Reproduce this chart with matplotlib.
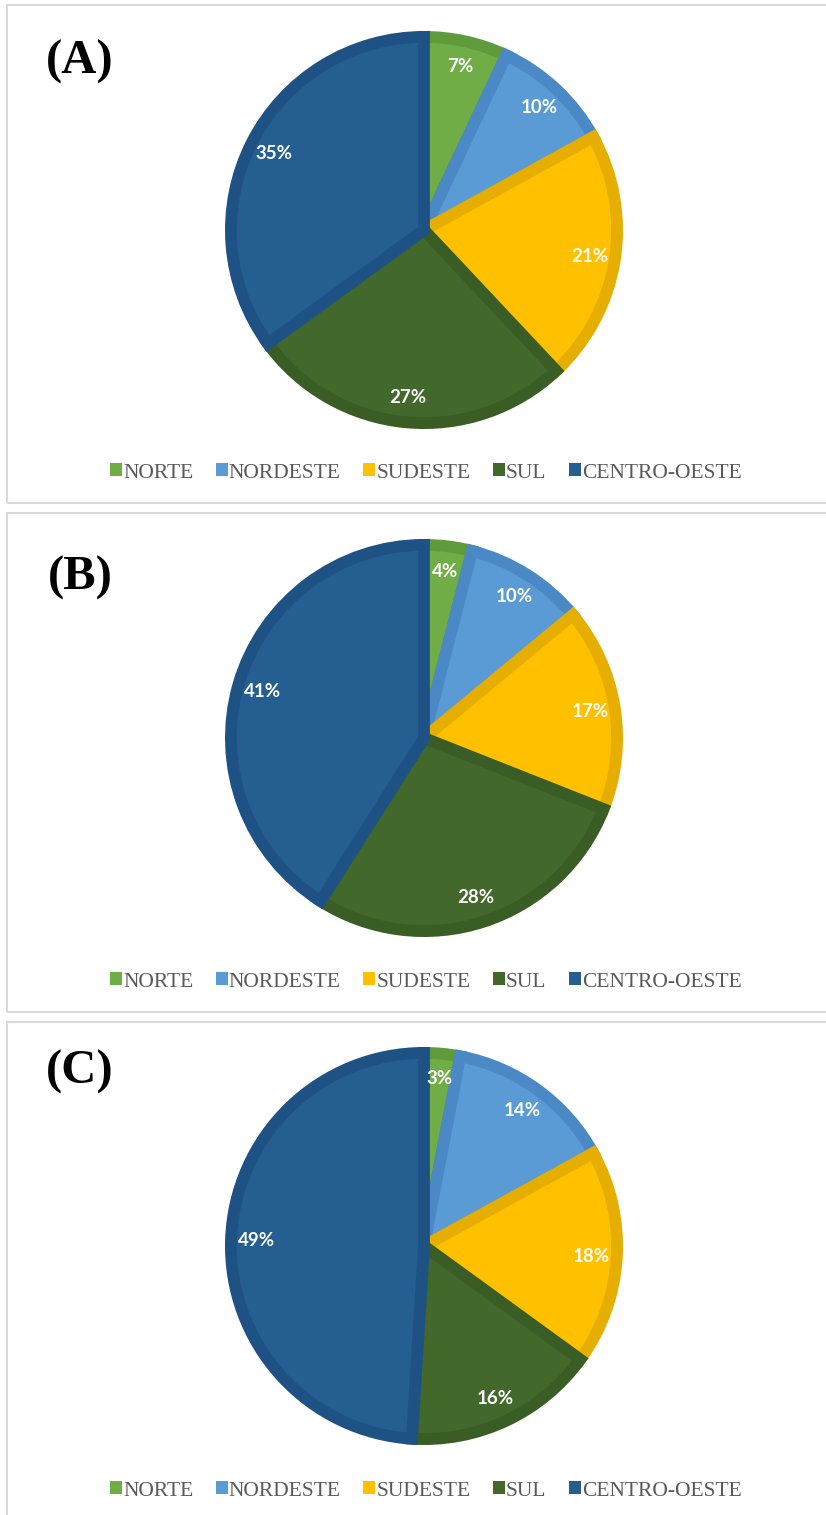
import matplotlib.pyplot as plt
from matplotlib.patches import Rectangle, Patch

regions = ['NORTE', 'NORDESTE', 'SUDESTE', 'SUL', 'CENTRO-OESTE']
share_a = [7, 10, 21, 27, 35]
share_b = [4, 10, 17, 28, 41]
share_c = [3, 14, 18, 16, 49]
panel_tags = ['(A)', '(B)', '(C)']

fill_colors = ['#70AD47', '#5B9BD5', '#FFC000', '#43682B', '#255E91']
edge_colors = ['#5F9B3A', '#4A88C6', '#E5AE00', '#3A5C25', '#1F5284']

W, H = 826, 1515
fig = plt.figure(figsize=(W / 100, H / 100), dpi=100)
fig.patch.set_facecolor('white')

# pixel layout per panel: frame top, frame bottom, pie centre y, tag y, legend y
panels = [
    (share_a, 5, 503, 230, 62, 471),
    (share_b, 513, 1012, 738, 578, 980),
    (share_c, 1022, 1530, 1246, 1072, 1489),
]
cx, r = 424, 199
edge_lw = 8.5  # points
# shrink pie so the outer half of the edge stroke stays inside r
pie_radius = 1 - (edge_lw * 100 / 72 / 2) / r

for (vals, top, bottom, cy, tag_y, leg_y), tag in zip(panels, panel_tags):
    # grey frame around each panel
    fig.add_artist(Rectangle((7 / W, 1 - bottom / H), (W + 20) / W, (bottom - top) / H,
                             transform=fig.transFigure, fill=False,
                             edgecolor='#D9D9D9', linewidth=1.5))

    ax = fig.add_axes([(cx - r) / W, 1 - (cy + r) / H, 2 * r / W, 2 * r / H])
    wedges, _, autotexts = ax.pie(vals, colors=fill_colors, startangle=90,
                                  counterclock=False, radius=pie_radius,
                                  autopct='%1.0f%%', pctdistance=0.87,
                                  wedgeprops=dict(linewidth=edge_lw))
    for w, ec in zip(wedges, edge_colors):
        w.set_edgecolor(ec)
    for t in autotexts:
        t.set_color('white')
        t.set_fontweight('bold')
        t.set_fontsize(13.5)
        t.set_fontfamily('Lato')
    ax.set_xlim(-1, 1)
    ax.set_ylim(-1, 1)
    ax.set_aspect('equal')
    ax.axis('off')

    fig.text(80 / W, 1 - tag_y / H, tag, fontsize=35, fontweight='bold',
             family='Liberation Serif', ha='center', va='center')

    handles = [Patch(facecolor=c, edgecolor='none') for c in fill_colors]
    fig.legend(handles, regions, loc='center', bbox_to_anchor=(426 / W, 1 - (leg_y + 2) / H),
               ncol=5, frameon=False, handlelength=0.55, handleheight=0.55,
               handletextpad=0.05, columnspacing=1.05,
               prop=dict(family='Liberation Serif', size=15.5),
               labelcolor='#595959')

fig.savefig('out.png', dpi=100)
